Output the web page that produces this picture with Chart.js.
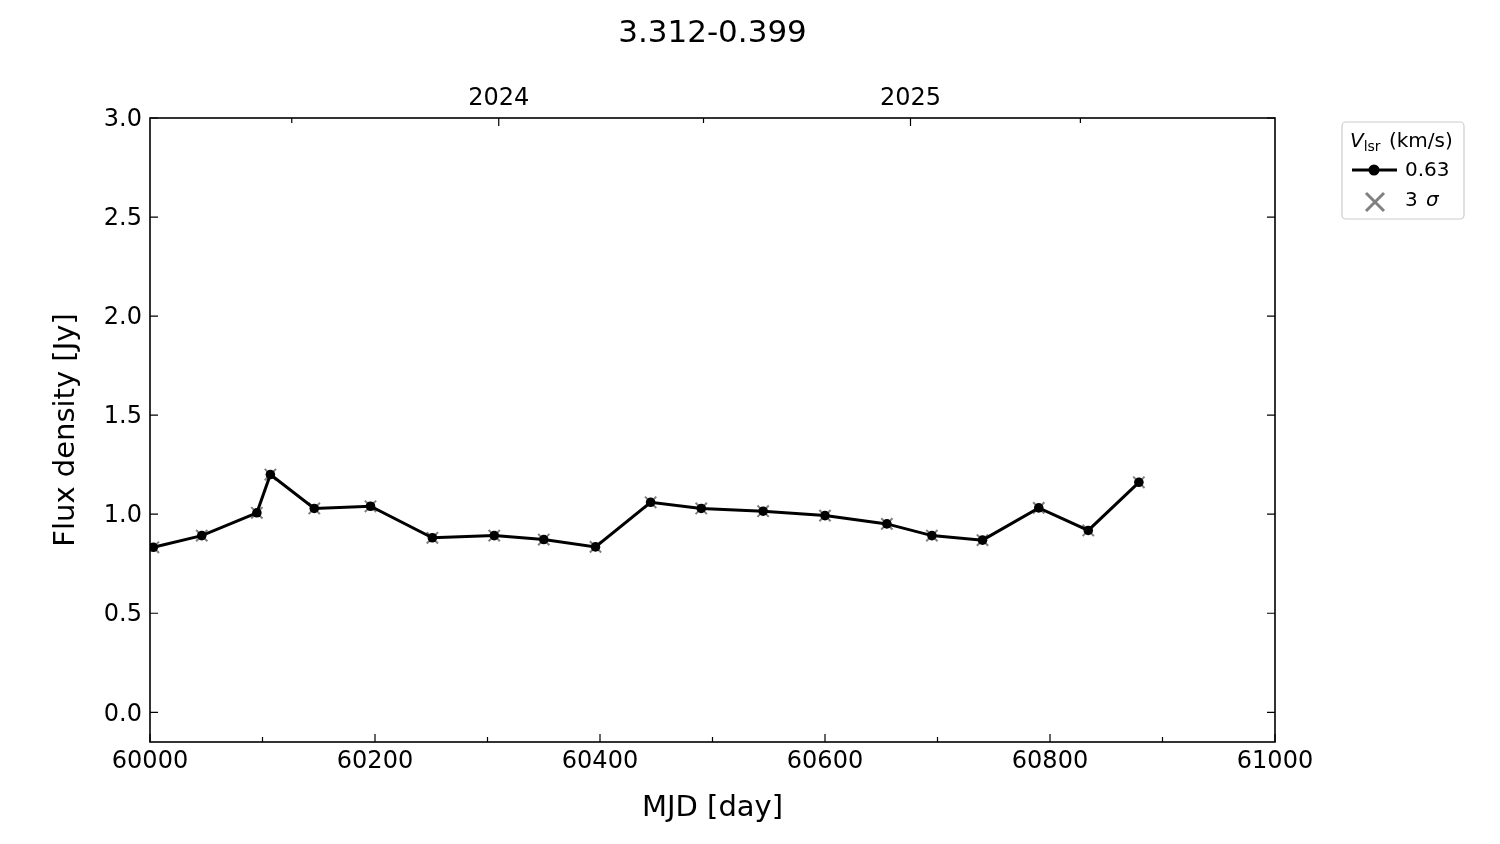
<!DOCTYPE html>
<html>
<head>
<meta charset="utf-8">
<script src="https://cdn.jsdelivr.net/npm/chart.js@4.4.1/dist/chart.umd.min.js"></script>
<style>
  html, body { margin: 0; padding: 0; background: #fff; }
  #wrap { width: 1500px; height: 844px; }
</style>
</head>
<body>
<div id="wrap"><canvas id="chart-cont" width="1500" height="844"></canvas></div>
<script>
// data
var mjd = [60003, 60046, 60095, 60107, 60146, 60196, 60251, 60306, 60350, 60396,
           60445, 60490, 60545, 60600, 60655, 60695, 60740, 60790, 60834, 60879];
var flux = [0.833, 0.892, 1.007, 1.200, 1.029, 1.040, 0.881, 0.892, 0.872, 0.835,
            1.060, 1.029, 1.015, 0.993, 0.951, 0.892, 0.869, 1.032, 0.918, 1.161];
// 3 sigma markers sit on the same points
var sigma3 = flux.slice();

var yTicks = [0.0, 0.5, 1.0, 1.5, 2.0, 2.5, 3.0];
var xTicks = [60000, 60200, 60400, 60600, 60800, 61000];
var xMinorTicks = [60100, 60300, 60500, 60700, 60900];
var yearTickMjd = [60126, 60310, 60492, 60676, 60827];
var yearLabels = ['', '2024', '', '2025', ''];
var titleText = '3.312-0.399';

var FONT = "'DejaVu Sans', 'Liberation Sans', sans-serif";

function pts(xs, ys) {
    var out = [];
    for (var i = 0; i < xs.length; i++) out.push({x: xs[i], y: ys[i]});
    return out;
}

// title over the axes, frame, inward ticks and the legend box
var framePlugin = {
    id: 'frame',
    afterDraw: function (chart) {
        var ctx = chart.ctx;
        var a = chart.chartArea;
        var sx = chart.scales.x, sy = chart.scales.y, sx2 = chart.scales.x2;
        ctx.save();

        ctx.fillStyle = '#000';
        ctx.font = '31px ' + FONT;
        ctx.textAlign = 'center';
        ctx.textBaseline = 'middle';
        ctx.fillText(titleText, (a.left + a.right) / 2, 34);

        ctx.strokeStyle = '#000';
        ctx.lineWidth = 1.6;
        ctx.strokeRect(a.left, a.top, a.right - a.left, a.bottom - a.top);

        ctx.lineWidth = 1.2;
        ctx.beginPath();
        xTicks.forEach(function (v) {
            var p = sx.getPixelForValue(v);
            ctx.moveTo(p, a.bottom); ctx.lineTo(p, a.bottom - 8);
        });
        xMinorTicks.forEach(function (v) {
            var p = sx.getPixelForValue(v);
            ctx.moveTo(p, a.bottom); ctx.lineTo(p, a.bottom - 5);
        });
        yTicks.forEach(function (v) {
            var p = sy.getPixelForValue(v);
            ctx.moveTo(a.left, p); ctx.lineTo(a.left + 8, p);
            ctx.moveTo(a.right, p); ctx.lineTo(a.right - 8, p);
        });
        yearTickMjd.forEach(function (v, i) {
            var p = sx2.getPixelForValue(v);
            var len = yearLabels[i] ? 8 : 5;
            ctx.moveTo(p, a.top); ctx.lineTo(p, a.top + len);
        });
        ctx.stroke();

        // legend
        var lx = 1342, ly = 122, lw = 122, lh = 97;
        ctx.fillStyle = 'rgba(255,255,255,0.8)';
        ctx.strokeStyle = '#cccccc';
        ctx.lineWidth = 1.2;
        ctx.beginPath();
        ctx.roundRect(lx, ly, lw, lh, 4);
        ctx.fill();
        ctx.stroke();

        ctx.fillStyle = '#000';
        ctx.textBaseline = 'alphabetic';
        ctx.textAlign = 'left';
        ctx.font = 'italic 20px ' + FONT;
        ctx.fillText('V', 1350, 147);
        var vw = ctx.measureText('V').width;
        ctx.font = '14px ' + FONT;
        ctx.fillText('lsr', 1350 + vw, 151);
        var sw = ctx.measureText('lsr').width;
        ctx.font = '20px ' + FONT;
        ctx.fillText(' (km/s)', 1350 + vw + sw + 2, 147);

        // row 1: line + dot
        ctx.strokeStyle = '#000';
        ctx.lineWidth = 3;
        ctx.beginPath();
        ctx.moveTo(1352, 170); ctx.lineTo(1397, 170);
        ctx.stroke();
        ctx.beginPath();
        ctx.arc(1374, 170, 5.5, 0, Math.PI * 2);
        ctx.fill();
        ctx.textBaseline = 'middle';
        ctx.font = '20px ' + FONT;
        ctx.fillText('0.63', 1405, 171);

        // row 2: grey cross
        ctx.strokeStyle = '#808080';
        ctx.lineWidth = 3;
        ctx.beginPath();
        ctx.moveTo(1366, 193); ctx.lineTo(1384, 211);
        ctx.moveTo(1384, 193); ctx.lineTo(1366, 211);
        ctx.stroke();
        ctx.fillStyle = '#000';
        ctx.fillText('3', 1405, 201);
        var tw = ctx.measureText('3 ').width;
        ctx.font = 'italic 20px ' + FONT;
        ctx.fillText('\u03c3', 1405 + tw + 2, 201);
        ctx.restore();
    }
};

var canvasElement = document.getElementById('chart-cont').getContext('2d');

var config = {
    type: 'scatter',
    data: {
        datasets: [{
            label: '0.63',
            data: pts(mjd, flux),
            showLine: true,
            borderColor: '#000',
            backgroundColor: '#000',
            borderWidth: 3,
            pointRadius: 4.8,
            pointBorderWidth: 0,
            pointStyle: 'circle',
            tension: 0,
            order: 0
        }, {
            label: '3 sigma',
            data: pts(mjd, sigma3),
            showLine: false,
            borderColor: '#808080',
            backgroundColor: '#808080',
            pointStyle: 'crossRot',
            pointRadius: 8,
            pointBorderWidth: 2,
            order: 1
        }]
    },
    plugins: [framePlugin],
    options: {
        responsive: false,
        animation: false,
        devicePixelRatio: 1,
        layout: { padding: { left: 0, right: 225, top: 62, bottom: 0 } },
        plugins: {
            legend: { display: false },
            tooltip: { enabled: false },
            title: { display: false }
        },
        scales: {
            x: {
                type: 'linear',
                position: 'bottom',
                min: 60000,
                max: 61000,
                grid: { display: false, drawTicks: false },
                border: { display: false },
                afterBuildTicks: function (s) { s.ticks = xTicks.map(function (v) { return {value: v}; }); },
                afterFit: function (s) { s.height = 102; },
                ticks: {
                    color: '#000',
                    padding: 5,
                    maxRotation: 0,
                    font: { family: FONT, size: 24 },
                    callback: function (v) { return String(v); }
                },
                title: {
                    display: true,
                    text: 'MJD [day]',
                    color: '#000',
                    font: { family: FONT, size: 29 },
                    padding: { top: 0, bottom: 18 }
                }
            },
            x2: {
                type: 'linear',
                position: 'top',
                min: 60000,
                max: 61000,
                grid: { display: false, drawTicks: false },
                border: { display: false },
                afterBuildTicks: function (s) { s.ticks = yearTickMjd.map(function (v) { return {value: v}; }); },
                afterFit: function (s) { s.height = 56; },
                ticks: {
                    color: '#000',
                    padding: 5,
                    maxRotation: 0,
                    autoSkip: false,
                    font: { family: FONT, size: 24 },
                    callback: function (v, i) { return yearLabels[i]; }
                }
            },
            y: {
                type: 'linear',
                position: 'left',
                min: -0.15,
                max: 3.0,
                grid: { display: false, drawTicks: false },
                border: { display: false },
                afterBuildTicks: function (s) { s.ticks = yTicks.map(function (v) { return {value: v}; }); },
                afterFit: function (s) { s.width = 150; },
                ticks: {
                    color: '#000',
                    padding: 8,
                    labelOffset: 2,
                    font: { family: FONT, size: 24 },
                    callback: function (v) { return Number(v).toFixed(1); }
                },
                title: {
                    display: true,
                    text: 'Flux density [Jy]',
                    color: '#000',
                    font: { family: FONT, size: 29 },
                    padding: { top: 49, bottom: 0 }
                }
            }
        }
    }
};

var chart = new Chart(canvasElement, config);
</script>
</body>
</html>
